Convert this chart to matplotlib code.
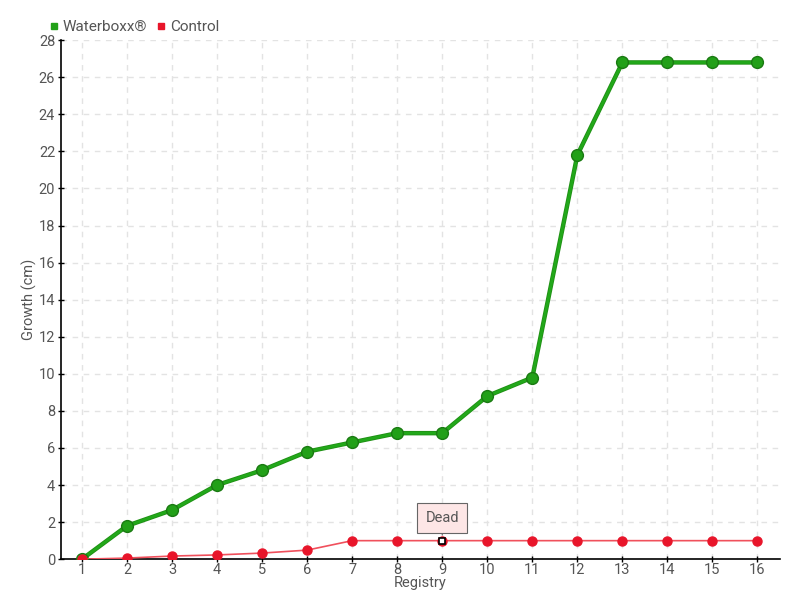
import matplotlib
matplotlib.use("Agg")
import matplotlib.pyplot as plt

plt.rcParams['font.family'] = ['Roboto', 'DejaVu Sans']

registry = list(range(1, 17))
waterboxx = [0, 1.8, 2.65, 4.0, 4.8, 5.8, 6.3, 6.8, 6.8, 8.8, 9.8, 21.8, 26.8, 26.8, 26.8, 26.8]
control = [0, 0.06, 0.17, 0.23, 0.33, 0.49, 1, 1, 1, 1, 1, 1, 1, 1, 1, 1]
dead_index = 8  # registry 9

text_color = '#555555'

fig = plt.figure(figsize=(8, 6), dpi=100)
ax = fig.add_axes([0.076, 0.068, 0.899, 0.865])

# Waterboxx series
ax.plot(registry, waterboxx, color='#1f8f14', linewidth=3.2, zorder=3)
ax.plot(registry, waterboxx, color='#22a81a', linewidth=2.0, marker='o',
        markersize=8.5, markerfacecolor='#22a018', markeredgecolor='#1a7a12',
        markeredgewidth=1, label='Waterboxx®', zorder=4)

# Control series
ax.plot(registry, control, color='#f0505c', linewidth=1.2, marker='o',
        markersize=6.5, markerfacecolor='#e8152a', markeredgecolor='#e8152a',
        label='Control', zorder=5)

# Dead marker
ax.plot(registry[dead_index], control[dead_index], marker='s', markersize=4,
        markerfacecolor='white', markeredgecolor='black', markeredgewidth=1.2, zorder=6)
ax.annotate('Dead', xy=(registry[dead_index], control[dead_index]),
            xytext=(0, 16), textcoords='offset points', ha='center', va='center',
            fontsize=10.5, color=text_color,
            bbox=dict(boxstyle='square,pad=0.55', facecolor='#fde6e6', edgecolor='#666666', linewidth=0.8),
            arrowprops=dict(arrowstyle='-', color='#666666', linewidth=0.8,
                            shrinkA=0, shrinkB=4), zorder=7)

ax.set_xlim(0.53, 16.5)
ax.set_ylim(0, 28)
ax.set_xticks(registry)
ax.set_yticks(range(0, 29, 2))
ax.tick_params(axis='both', colors='black', labelcolor=text_color, labelsize=10.5,
               length=4, width=1, direction='inout')
ax.tick_params(axis='x', pad=1)
ax.tick_params(axis='y', pad=2)

ax.grid(True, linestyle=(0, (4, 4)), color='#e3e3e3', linewidth=1)
ax.set_axisbelow(True)
for side in ['top', 'right']:
    ax.spines[side].set_visible(False)
ax.spines['left'].set_linewidth(1.2)
ax.spines['bottom'].set_linewidth(1.2)

ax.set_xlabel('Registry', fontsize=10.5, color=text_color, labelpad=-1)
ax.set_ylabel('Growth (cm)', fontsize=10.5, color=text_color, labelpad=1)

leg = ax.legend(loc='lower left', bbox_to_anchor=(-0.025, 1.0), ncol=2, frameon=False,
                fontsize=11, handlelength=0.6, handletextpad=0.3, columnspacing=0.6,
                borderaxespad=0)
for text in leg.get_texts():
    text.set_color(text_color)
for handle, col in zip(leg.legend_handles, ['#22a018', '#e8152a']):
    handle.set_linestyle('none')
    handle.set_marker('s')
    handle.set_markersize(5)
    handle.set_markerfacecolor(col)
    handle.set_markeredgecolor(col)

fig.savefig('out.png', dpi=100)
